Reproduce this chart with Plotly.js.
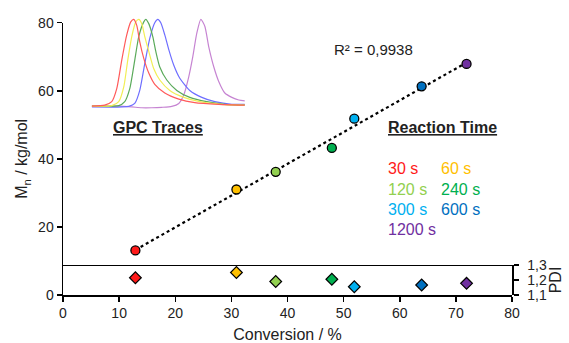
<!DOCTYPE html>
<html><head><meta charset="utf-8">
<script src="https://cdn.plot.ly/plotly-3.0.1.min.js"></script>
<style>html,body{margin:0;padding:0;background:#fff}#chart{width:569px;height:343px}</style>
</head><body><div id="chart"></div>
<script>
// Reaction samples
const times = ['30 s', '60 s', '120 s', '240 s', '300 s', '600 s', '1200 s'];
const colors = ['#ff1a1a', '#ffc000', '#92d050', '#00b050', '#00b0f0', '#0070c0', '#7030a0'];
const conversion = [12.9, 30.9, 37.9, 47.9, 51.9, 63.9, 71.9];
const mn = [13.1, 31.0, 36.2, 43.2, 51.8, 61.3, 67.9];
const pdi = [1.215, 1.25, 1.19, 1.205, 1.155, 1.167, 1.178];
const r2Text = 'R² = 0,9938';

// GPC traces (inset), elution position vs normalised intensity
const gpcRedT = [0,13,20,25,30,35,39,42,45,48,52,57,63,73,87,103,127,153];
const gpcRedY = [0,.01,.05,.2,.53,.82,.97,1,.93,.74,.55,.38,.25,.15,.08,.04,.02,.01];
const gpcYellowT = [0,20,27,32,36,40,44,47,50,53,57,62,68,78,92,108,130,153];
const gpcYellowY = [0,.004,.05,.22,.53,.8,.97,1,.95,.8,.63,.43,.3,.18,.1,.05,.02,.01];
const gpcGreenT = [0,27,33,38,43,47,52,54,57,61,64,68,75,85,98,115,133,153];
const gpcGreenY = [0,.004,.05,.2,.53,.8,.97,1,.95,.8,.63,.45,.3,.18,.1,.05,.02,.01];
const gpcBlueT = [0,37,43,48,53,58,63,66,69,73,77,82,88,98,110,123,140,153];
const gpcBlueY = [-.01,-.004,.03,.18,.49,.78,.96,1,.96,.82,.65,.47,.32,.18,.1,.05,.02,.02];
const gpcPurpleT = [0,27,40,50,60,70,80,87,92,97,101,105,109,113,117,122,127,133,140,147,153];
const gpcPurpleY = [.004,0,-.01,-.02,-.02,-.015,-.004,.03,.13,.34,.57,.84,1,.92,.68,.45,.28,.15,.10,.07,.06];
const gpcColors = ['#ff5a5a', '#f2ee55', '#5aaa5a', '#6e6eff', '#c684d2'];

const FONT = 'Liberation Sans, Arial, sans-serif';
const TXT = '#222';

// linear regression trendline from data
const n = conversion.length;
const mx = conversion.reduce((a,b)=>a+b,0)/n;
const my = mn.reduce((a,b)=>a+b,0)/n;
let sxy=0, sxx=0;
for (let i=0;i<n;i++){ sxy+=(conversion[i]-mx)*(mn[i]-my); sxx+=(conversion[i]-mx)**2; }
const slope = sxy/sxx, icpt = my - slope*mx;
const xMin = Math.min(...conversion), xMax = Math.max(...conversion);

const traces = [];
traces.push({x:[xMin,xMax], y:[icpt+slope*xMin, icpt+slope*xMax], mode:'lines',
  line:{color:'#000', width:2.2, dash:'dot'}, xaxis:'x', yaxis:'y', hoverinfo:'skip'});
traces.push({x:conversion, y:mn, mode:'markers', xaxis:'x', yaxis:'y',
  marker:{symbol:'circle', size:9, color:colors, line:{color:'#000', width:1.3}}});
traces.push({x:conversion, y:pdi, mode:'markers', xaxis:'x', yaxis:'y2',
  marker:{symbol:'diamond', size:9, color:colors, line:{color:'#000', width:1.2}}});
const gT=[gpcRedT,gpcYellowT,gpcGreenT,gpcBlueT,gpcPurpleT];
const gY=[gpcRedY,gpcYellowY,gpcGreenY,gpcBlueY,gpcPurpleY];
for (let k=4;k>=0;k--){
  traces.push({x:gT[k], y:gY[k], mode:'lines', xaxis:'x3', yaxis:'y3',
    line:{color:gpcColors[k], width:1.2, shape:'spline', smoothing:0.6}, hoverinfo:'skip'});
}

const annotations = [
  {text:r2Text, x:55.4, y:72.0, xref:'x', yref:'y', showarrow:false, xanchor:'center', yanchor:'middle', font:{family:FONT,size:15,color:TXT}},
  {text:'<b><u>GPC Traces</u></b>', x:16.9, y:49.3, xref:'x', yref:'y', showarrow:false, xanchor:'center', yanchor:'middle', font:{family:FONT,size:16,color:TXT}},
  {text:'<b><u>Reaction Time</u></b>', x:67.6, y:49.3, xref:'x', yref:'y', showarrow:false, xanchor:'center', yanchor:'middle', font:{family:FONT,size:16,color:TXT}}
];
const legX = [57.5, 67.0];
const legY = [37.2, 31.1, 25.2, 19.3];
for (let i=0;i<times.length;i++){
  annotations.push({text:times[i], x:legX[i%2], y:legY[Math.floor(i/2)], xref:'x', yref:'y', showarrow:false,
    xanchor:'left', yanchor:'middle', font:{family:FONT,size:16,color:colors[i]}});
}

const axLine = {showline:true, linecolor:'#000', linewidth:1.5, ticks:'outside', ticklen:5, tickwidth:1.5, tickcolor:'#000',
  showgrid:false, zeroline:false, tickfont:{family:FONT,size:14,color:TXT}};

const layout = {
  width:569, height:343, margin:{l:63, r:57, t:16, b:48},
  paper_bgcolor:'#fff', plot_bgcolor:'#fff', showlegend:false, separators:',.',
  font:{family:FONT, color:TXT},
  xaxis:Object.assign({}, axLine, {range:[0,80], dtick:10, domain:[0,1], anchor:'y',
    title:{text:'Conversion / %', font:{family:FONT,size:16,color:TXT}, standoff:9}}),
  yaxis:Object.assign({}, axLine, {range:[0,80], dtick:20, domain:[0,0.976], anchor:'x',
    title:{text:'M<sub>n</sub> / kg/mol', font:{family:FONT,size:16,color:TXT}, standoff:6}}),
  yaxis2:Object.assign({}, axLine, {range:[1.1,1.3], tickvals:[1.1,1.2,1.3], tickformat:'.1f', domain:[0,0.1075],
    anchor:'x', side:'right', ticklabelstandoff:6, tickfont:{family:FONT,size:14,color:TXT},
    title:{text:'PDI', font:{family:FONT,size:16,color:TXT}, standoff:1}}),
  xaxis3:{domain:[0.064,0.405], range:[0,153], anchor:'y3', visible:false},
  yaxis3:{domain:[0.663,1], range:[-0.046,1.038], anchor:'x3', visible:false},
  shapes:[{type:'line', xref:'paper', yref:'y2', x0:0, x1:1, y0:1.3, y1:1.3, line:{color:'#000', width:2}}],
  annotations:annotations
};

Plotly.newPlot('chart', traces, layout, {displayModeBar:false, staticPlot:true});
</script></body></html>
